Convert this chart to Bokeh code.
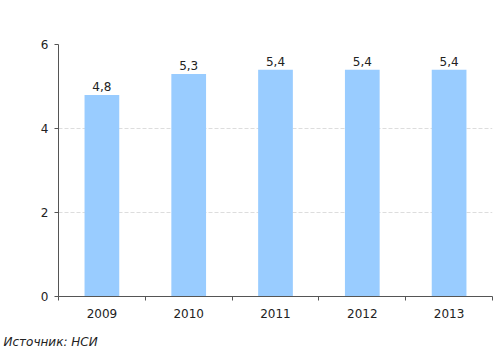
from bokeh.plotting import figure
from bokeh.models import ColumnDataSource, FixedTicker, Title, Range1d
from bokeh.core.properties import value
from bokeh.embed import file_html
from bokeh.resources import INLINE

years = ["2009", "2010", "2011", "2012", "2013"]
values = [4.8, 5.3, 5.4, 5.4, 5.4]
labels = ["4,8", "5,3", "5,4", "5,4", "5,4"]
y_ticks = [0, 2, 4, 6]

xs = [i + 0.5 for i in range(len(years))]
src = ColumnDataSource(dict(x=xs, top=values, lab=labels))

p = figure(width=493, height=362, output_backend="svg", toolbar_location=None,
           x_range=Range1d(0, len(years)), y_range=Range1d(0, 6),
           min_border_left=58, min_border_right=1, min_border_top=44, min_border_bottom=66)
p.outline_line_color = None
p.background_fill_color = "white"

p.vbar(x="x", top="top", width=0.4, source=src, color="#99CCFF", line_color=None)
p.text(x="x", y="top", text="lab", source=src, text_align="center", text_baseline="bottom",
       y_offset=-4, text_font_size="12px", text_color="#222222", text_font=value("DejaVu Sans"))

# x axis
p.xaxis.ticker = FixedTicker(ticks=xs, minor_ticks=list(range(len(years) + 1)))
p.xaxis.major_label_overrides = {x: y for x, y in zip(xs, years)}
p.xaxis.major_tick_line_color = None
p.xaxis.minor_tick_line_color = "#555555"
p.xaxis.minor_tick_out = 4
p.xaxis.minor_tick_in = 0
p.xaxis.axis_line_color = "#555555"
p.xaxis.major_label_text_font = "DejaVu Sans"
p.xaxis.major_label_text_font_size = "12px"
p.xaxis.major_label_text_color = "#222222"
p.xaxis.major_label_standoff = 6

# y axis
p.yaxis.ticker = FixedTicker(ticks=y_ticks)
p.yaxis.major_tick_out = 4
p.yaxis.major_tick_in = 0
p.yaxis.minor_tick_line_color = None
p.yaxis.axis_line_color = "#555555"
p.yaxis.major_tick_line_color = "#555555"
p.yaxis.major_label_text_font = "DejaVu Sans"
p.yaxis.major_label_text_font_size = "12px"
p.yaxis.major_label_text_color = "#222222"
p.yaxis.major_label_standoff = 6

p.xgrid.grid_line_color = None
p.ygrid.grid_line_color = "#DDDDDD"
p.ygrid.grid_line_dash = "4 2"

p.add_layout(Title(text="Источник: НСИ", align="left", offset=-55, standoff=25,
                   text_font="DejaVu Sans", text_font_size="12px", text_font_style="italic",
                   text_color="#222222"), "below")

open("out.html", "w").write(file_html(p, INLINE))
